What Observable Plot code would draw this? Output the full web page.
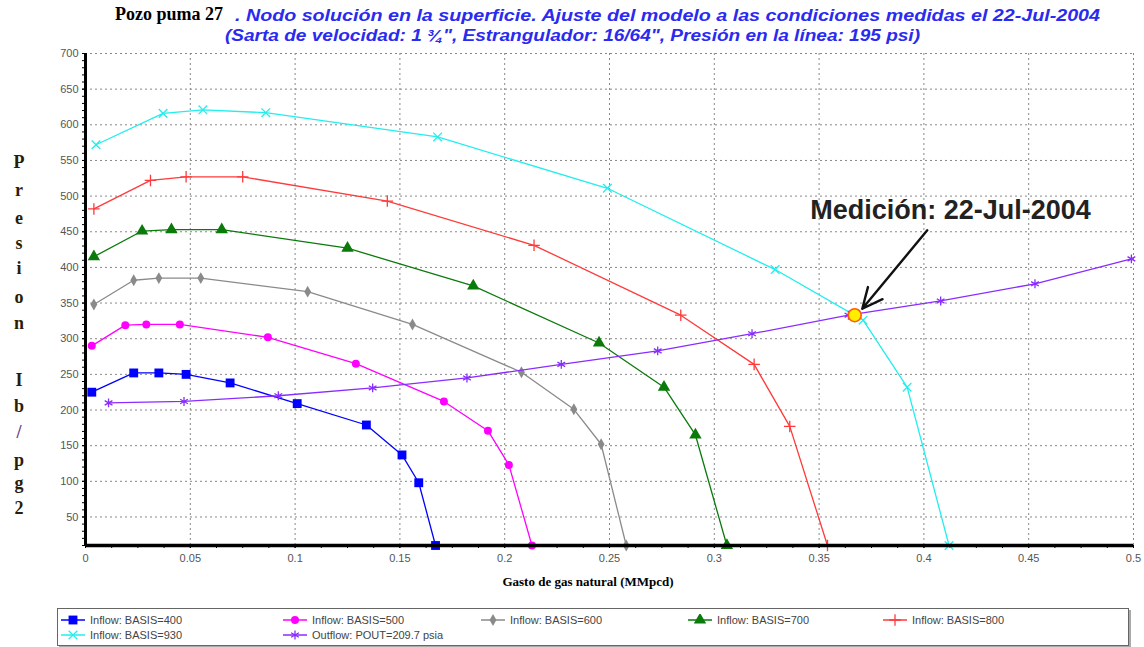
<!DOCTYPE html>
<html><head><meta charset="utf-8">
<script src="https://cdn.jsdelivr.net/npm/d3@7"></script>
<script src="https://cdn.jsdelivr.net/npm/@observablehq/plot@0.6"></script>
<style>
body{margin:0;background:#fff;}
#wrap{position:relative;width:1144px;height:647px;overflow:hidden;background:#fff;}
.abs{position:absolute;white-space:nowrap;}
.blue{font:italic bold 16px "Liberation Sans",Arial,sans-serif;color:#2a2af0;transform-origin:0 0;}
.ylet{position:absolute;left:8px;width:22px;text-align:center;font:bold 18px "Liberation Serif",serif;color:#2a1c08;line-height:18px;}
#legend{position:absolute;left:57px;top:608px;width:1070px;height:36px;border:1px solid #666;box-shadow:2px 2px 0 #aaa;background:#fff;}
.li{position:absolute;font:11px "Liberation Sans",Arial,sans-serif;color:#444;display:flex;align-items:center;}
.li svg{margin-right:5px;}
</style></head><body>
<div id="wrap">
  <div class="abs" style="left:115px;top:4px;font:bold 18px 'Liberation Serif',serif;color:#000;">Pozo puma 27</div>
  <div id="t1" class="abs blue" style="left:235px;top:7px;">. Nodo solución en la superficie. Ajuste del modelo a las condiciones medidas el 22-Jul-2004</div>
  <div id="t2" class="abs blue" style="left:225px;top:27px;">(Sarta de velocidad: 1 ¾", Estrangulador: 16/64", Presión en la línea: 195 psi)</div>
  <div id="chart" class="abs" style="left:0;top:47px;"></div>
  <div id="ylab"></div>
  <div class="abs" style="left:0;width:1176px;top:574px;text-align:center;font:bold 13px 'Liberation Serif',serif;color:#000;">Gasto de gas natural (MMpcd)</div>
  <div id="legend"></div>
</div>
<script>
// ---- data (x: MMpcd, y: psi) ----
const inflow400 = [[0.003,225],[0.023,252],[0.035,252],[0.048,250],[0.069,238],[0.101,209],[0.134,179],[0.151,137],[0.159,98],[0.167,10]];
const inflow500 = [[0.003,290],[0.019,319],[0.029,320],[0.045,320],[0.087,302],[0.129,265],[0.171,212],[0.192,171],[0.202,123],[0.213,10]];
const inflow600 = [[0.004,348],[0.023,382],[0.035,385],[0.055,385],[0.106,366],[0.156,320],[0.208,253],[0.233,201],[0.246,152],[0.258,10]];
const inflow700 = [[0.004,415],[0.027,451],[0.041,453],[0.065,453],[0.125,427],[0.185,374],[0.245,294],[0.276,232],[0.291,165],[0.306,10]];
const inflow800 = [[0.004,482],[0.031,522],[0.048,527],[0.075,527],[0.144,493],[0.214,431],[0.284,333],[0.319,264],[0.336,177],[0.354,10]];
const inflow930 = [[0.005,572],[0.037,616],[0.056,621],[0.086,617],[0.168,583],[0.249,511],[0.329,397],[0.371,326],[0.392,232],[0.412,10]];
const outflow   = [[0.011,210],[0.047,212],[0.092,220],[0.137,231],[0.182,245],[0.227,264],[0.273,283],[0.318,307],[0.364,333],[0.408,353],[0.453,377],[0.499,412]];
const measured  = [[0.367,333]];
const seriesNames = ["Inflow: BASIS=400","Inflow: BASIS=500","Inflow: BASIS=600","Inflow: BASIS=700","Inflow: BASIS=800","Inflow: BASIS=930","Outflow: POUT=209.7 psia"];
const annotationText = "Medición: 22-Jul-2004";
const annotationPos = [0.4127, 480];
const arrowFrom = [0.4016, 452];
const arrowTo = [0.3706, 342];
const xTicks = [0,0.05,0.1,0.15,0.2,0.25,0.3,0.35,0.4,0.45,0.5];
const yTicks = [50,100,150,200,250,300,350,400,450,500,550,600,650,700];
const xTickLabels = ["0","0.05","0.1","0.15","0.2","0.25","0.3","0.35","0.4","0.45","0.5"];
const yLabelLetters = ["P","r","e","s","i","o","n","I","b","/","p","g","2"];

const styles = [
  {data:inflow400, color:"#0000ff", symbol:"square", r:5, filled:true},
  {data:inflow500, color:"#ff00ff", symbol:"circle", r:4, filled:true},
  {data:inflow600, color:"#8a8a8a", symbol:"diamond", r:3.6, filled:true},
  {data:inflow700, color:"#0a7a0a", symbol:"triangle", r:4.6, filled:true},
  {data:inflow800, color:"#ff3a3a", symbol:"plus", r:3.8, filled:false},
  {data:inflow930, color:"#22eeee", symbol:"times", r:4, filled:false},
  {data:outflow,   color:"#8a2cff", symbol:"asterisk", r:4.2, filled:false}
];

const xMinor = d3.range(0, 0.50001, 0.0125);
const yMinor = d3.range(10, 700.1, 10);

const marks = [
  Plot.gridX(xTicks.slice(1), {stroke:"#888", strokeOpacity:1, strokeDasharray:"2,3"}),
  Plot.gridY(yTicks, {stroke:"#888", strokeOpacity:1, strokeDasharray:"2,3"}),
  Plot.axisX(xMinor, {tickSize:3, tickFormat:()=>"", label:null, stroke:"#000"}),
  Plot.axisY(yMinor, {tickSize:3, tickFormat:()=>"", label:null, stroke:"#000"}),
  Plot.axisX(xTicks, {tickSize:3, tickPadding:6, tickFormat:(d,i)=>xTickLabels[i], label:null, fill:"#555", fontSize:11}),
  Plot.axisY(yTicks, {tickSize:3, tickPadding:4, label:null, fill:"#555", fontSize:11}),
];
for (const s of styles) {
  marks.push(Plot.line(s.data, {x:d=>d[0], y:d=>d[1], stroke:s.color, strokeWidth:1.3}));
  marks.push(Plot.dot(s.data, s.filled
    ? {x:d=>d[0], y:d=>d[1], symbol:()=>s.symbol, r:s.r, fill:s.color, stroke:"none"}
    : {x:d=>d[0], y:d=>d[1], symbol:()=>s.symbol, r:s.r, stroke:s.color, fill:"none", strokeWidth:1.3}));
}
marks.push(
  Plot.dot(measured, {x:d=>d[0], y:d=>d[1], r:6.5, fill:"#ffee00", stroke:"#ff5a00", strokeWidth:1.6}),
  Plot.arrow([{x1:arrowFrom[0], y1:arrowFrom[1], x2:arrowTo[0], y2:arrowTo[1]}], {x1:"x1", y1:"y1", x2:"x2", y2:"y2", stroke:"#111", strokeWidth:2.4, headLength:14, headAngle:50}),
  Plot.text([annotationPos], {x:d=>d[0], y:d=>d[1], text:()=>annotationText, fontSize:27, fontWeight:600, fill:"#222", fontFamily:"'Liberation Sans', Arial, sans-serif"}),
  Plot.ruleX([0], {stroke:"#000", strokeWidth:3}),
  Plot.ruleY([10], {stroke:"#000", strokeWidth:3.5})
);

const chart = Plot.plot({
  width:1144, height:553,
  marginLeft:85, marginRight:11, marginTop:6, marginBottom:55,
  x:{domain:[0,0.5], label:null},
  y:{domain:[10,700], label:null},
  symbol:{type:"identity"},
  style:{fontFamily:"'Liberation Sans', Arial, sans-serif", fontSize:"11px", background:"transparent", overflow:"visible"},
  marks
});
document.getElementById("chart").appendChild(chart);

// stretch the blue subtitle lines to the reference widths
[["t1",865],["t2",695]].forEach(([id,w])=>{
  const el = document.getElementById(id);
  const cw = el.getBoundingClientRect().width;
  el.style.transform = `scaleX(${w/cw})`;
});

// vertical y label
const letterTops = [153,181,209,234,259,288,314,371,397,423,451,474,499];
const ylab = document.getElementById("ylab");
yLabelLetters.forEach((ch,i)=>{
  const d = document.createElement("div");
  d.className = "ylet";
  d.style.top = letterTops[i]+"px";
  if (ch === "/") d.style.color = "#6a3a8a";
  d.textContent = ch;
  ylab.appendChild(d);
});

// legend
const legendPos = [[3,5],[225,5],[423,5],[630,5],[825,5],[3,20],[225,20]];
const leg = document.getElementById("legend");
styles.forEach((s,i)=>{
  const item = document.createElement("div");
  item.className = "li";
  item.style.left = legendPos[i][0]+"px";
  item.style.top = legendPos[i][1]+"px";
  const svg = d3.create("svg").attr("width",24).attr("height",12);
  svg.append("line").attr("x1",0).attr("x2",24).attr("y1",6).attr("y2",6).attr("stroke",s.color).attr("stroke-width",1.5);
  const symMap = {square:d3.symbolSquare, circle:d3.symbolCircle, diamond:d3.symbolDiamond, triangle:d3.symbolTriangle, plus:d3.symbolPlus, times:d3.symbolTimes, asterisk:d3.symbolAsterisk};
  const p = d3.symbol(symMap[s.symbol], Math.PI*s.r*s.r)();
  const g = svg.append("path").attr("d",p).attr("transform","translate(12,6)");
  if (s.filled) g.attr("fill",s.color); else g.attr("fill","none").attr("stroke",s.color).attr("stroke-width",1.3);
  item.appendChild(svg.node());
  const t = document.createElement("span");
  t.textContent = seriesNames[i];
  item.appendChild(t);
  leg.appendChild(item);
});
</script>
</body></html>
